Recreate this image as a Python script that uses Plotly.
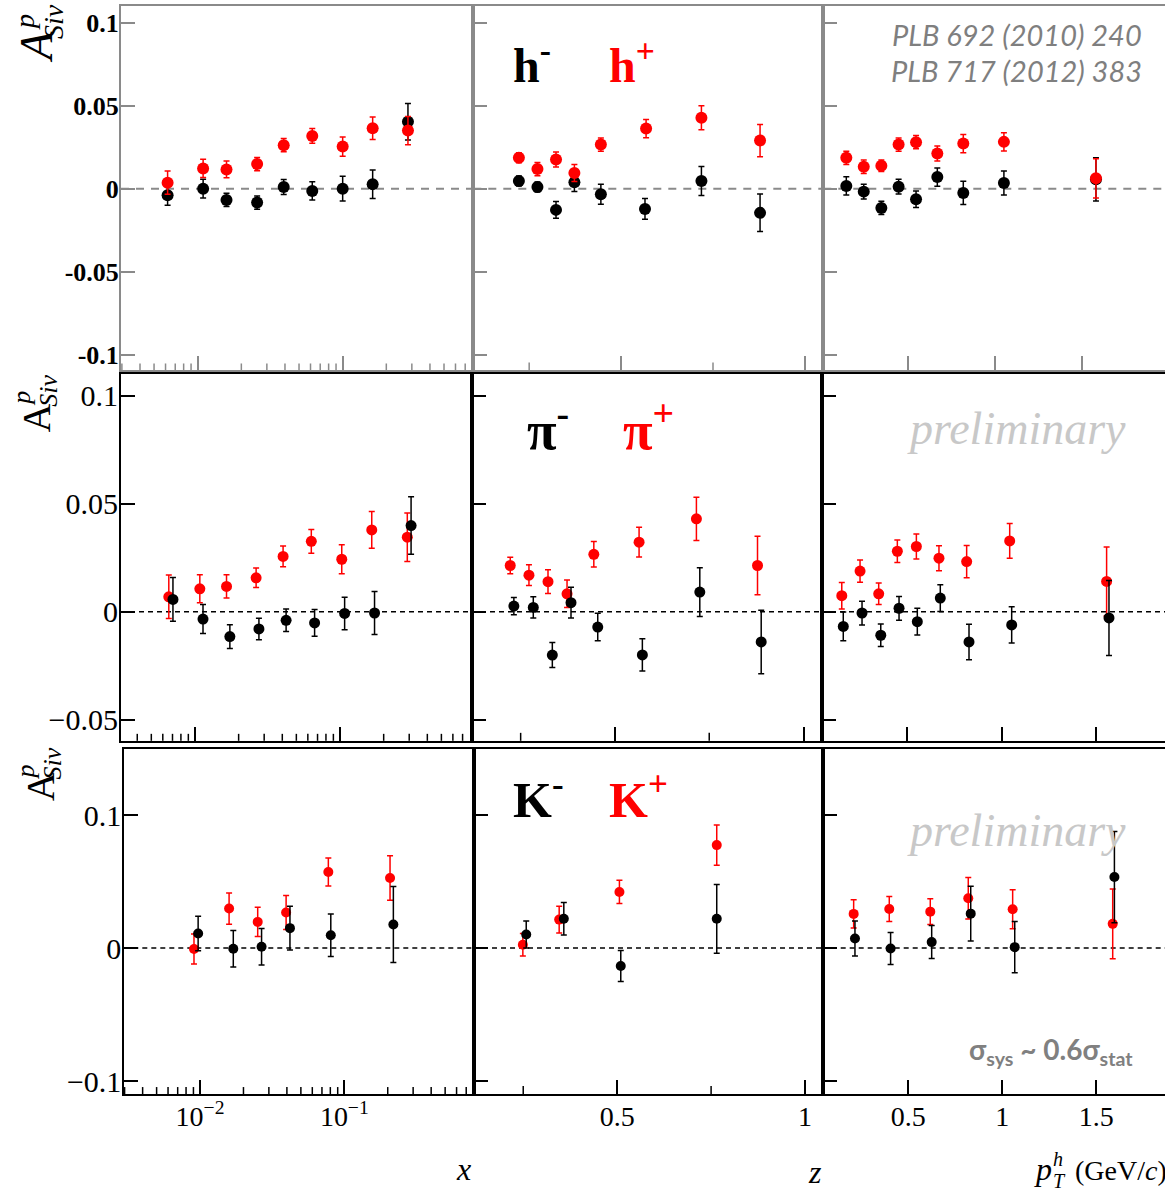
import math
import plotly.graph_objects as go

W, H = 1165, 1196

# ---------------- data: Sivers asymmetry on proton ----------------
# charged hadrons (h+ red, h- black) vs x, z, pT
X_HP = [0.0062, 0.0109, 0.0158, 0.0257, 0.0392, 0.0617, 0.100, 0.161, 0.282]
HP_X = [0.0036, 0.0122, 0.0116, 0.0148, 0.0262, 0.0318, 0.0254, 0.0364, 0.035]
HP_X_ERR = [0.007, 0.0055, 0.005, 0.004, 0.004, 0.0045, 0.0058, 0.0068, 0.0085]
X_HM = [0.0062, 0.0109, 0.0158, 0.0257, 0.0392, 0.0617, 0.100, 0.161, 0.282]
HM_X = [-0.004, 0.0, -0.0068, -0.0084, 0.001, -0.0014, 0.0, 0.0026, 0.0404]
HM_X_ERR = [0.006, 0.0056, 0.004, 0.004, 0.0045, 0.0055, 0.0075, 0.0086, 0.011]

Z_HP = [0.222, 0.2725, 0.323, 0.373, 0.445, 0.568, 0.7185, 0.878]
HP_Z = [0.0186, 0.0118, 0.0176, 0.0094, 0.0266, 0.0362, 0.0427, 0.029]
HP_Z_ERR = [0.003, 0.004, 0.0045, 0.0051, 0.004, 0.0055, 0.0072, 0.0097]
Z_HM = [0.222, 0.2725, 0.323, 0.373, 0.445, 0.565, 0.7185, 0.878]
HM_Z = [0.0046, 0.001, -0.0128, 0.0038, -0.0034, -0.0122, 0.0046, -0.0146]
HM_Z_ERR = [0.003, 0.003, 0.005, 0.0055, 0.006, 0.0063, 0.0087, 0.0113]

PT_HP = [0.148, 0.248, 0.349, 0.448, 0.548, 0.67, 0.819, 1.052, 1.58]
HP_PT = [0.0186, 0.0132, 0.0138, 0.0266, 0.028, 0.0212, 0.0272, 0.0282, 0.0062]
HP_PT_ERR = [0.004, 0.004, 0.0035, 0.004, 0.004, 0.0045, 0.0055, 0.0055, 0.0118]
PT_HM = [0.148, 0.248, 0.349, 0.448, 0.548, 0.67, 0.819, 1.052, 1.58]
HM_PT = [0.0016, -0.0018, -0.0116, 0.0012, -0.0064, 0.007, -0.0026, 0.0034, 0.0056]
HM_PT_ERR = [0.0055, 0.0045, 0.004, 0.0045, 0.005, 0.0055, 0.007, 0.0072, 0.013]

# pions
X_PIP = [0.0066, 0.0108, 0.0165, 0.0264, 0.0405, 0.0634, 0.1028, 0.1655, 0.291]
PIP_X = [0.0069, 0.0106, 0.0117, 0.0157, 0.0256, 0.0326, 0.0243, 0.0379, 0.0345]
PIP_X_ERR = [0.0101, 0.0065, 0.0054, 0.0045, 0.0048, 0.0055, 0.0067, 0.0085, 0.0112]
X_PIM = [0.00705, 0.01136, 0.0174, 0.0276, 0.0425, 0.0668, 0.1076, 0.173, 0.309]
PIM_X = [0.0057, -0.0034, -0.0115, -0.008, -0.004, -0.0052, -0.0008, -0.0006, 0.0399]
PIM_X_ERR = [0.0101, 0.0067, 0.0055, 0.005, 0.0052, 0.0062, 0.0075, 0.01, 0.0133]

Z_PIP = [0.2224, 0.272, 0.3225, 0.373, 0.444, 0.564, 0.716, 0.878]
PIP_Z = [0.0214, 0.0169, 0.0139, 0.0083, 0.0266, 0.0322, 0.043, 0.0214]
PIP_Z_ERR = [0.0038, 0.0048, 0.0055, 0.0064, 0.0059, 0.0069, 0.01, 0.0136]
Z_PIM = [0.232, 0.2835, 0.334, 0.3835, 0.4544, 0.5727, 0.725, 0.8878]
PIM_Z = [0.0026, 0.002, -0.0201, 0.0042, -0.0071, -0.02, 0.0091, -0.014]
PIM_Z_ERR = [0.004, 0.0049, 0.0058, 0.0071, 0.0064, 0.0075, 0.0113, 0.0147]

PT_PIP = [0.152, 0.249, 0.348, 0.447, 0.548, 0.668, 0.815, 1.0435, 1.558]
PIP_PT = [0.0074, 0.0188, 0.0083, 0.028, 0.0302, 0.0248, 0.0232, 0.0328, 0.014]
PIP_PT_ERR = [0.0061, 0.0052, 0.005, 0.0052, 0.0058, 0.0058, 0.0075, 0.008, 0.016]
PT_PIM = [0.160, 0.2595, 0.359, 0.456, 0.553, 0.675, 0.8275, 1.054, 1.5706]
PIM_PT = [-0.0068, -0.0006, -0.0109, 0.0016, -0.0046, 0.0063, -0.014, -0.0061, -0.0029]
PIM_PT_ERR = [0.0067, 0.0055, 0.0052, 0.0055, 0.0062, 0.0062, 0.0082, 0.0084, 0.0174]

# kaons
X_KP = [0.00908, 0.0159, 0.0251, 0.0395, 0.0775, 0.2075]
KP_X = [-0.0007, 0.0297, 0.0197, 0.0267, 0.0572, 0.0527]
KP_X_ERR = [0.0112, 0.0117, 0.011, 0.0128, 0.0106, 0.0167]
X_KM = [0.0097, 0.017, 0.0267, 0.042, 0.0806, 0.2188]
KM_X = [0.011, -0.0005, 0.001, 0.015, 0.0097, 0.0177]
KM_X_ERR = [0.013, 0.0137, 0.0137, 0.0165, 0.016, 0.0286]

Z_KP = [0.249, 0.3457, 0.506, 0.765]
KP_Z = [0.0025, 0.0214, 0.0422, 0.0774]
KP_Z_ERR = [0.0084, 0.01, 0.0087, 0.0152]
Z_KM = [0.258, 0.358, 0.5096, 0.765]
KM_Z = [0.0102, 0.022, -0.0135, 0.022]
KM_Z_ERR = [0.0102, 0.0122, 0.0116, 0.0258]

PT_KP = [0.2096, 0.399, 0.617, 0.819, 1.055, 1.587]
KP_PT = [0.0257, 0.0294, 0.0274, 0.0374, 0.0292, 0.0182]
KP_PT_ERR = [0.0106, 0.0094, 0.0097, 0.0156, 0.0147, 0.0262]
PT_KM = [0.2165, 0.406, 0.6245, 0.832, 1.066, 1.596]
KM_PT = [0.0072, -0.0003, 0.0045, 0.0259, 0.0007, 0.0534]
KM_PT_ERR = [0.0131, 0.012, 0.0124, 0.0205, 0.0193, 0.0343]

# tick labels
Y_TICKS_ROW1 = [0.1, 0.05, 0, -0.05, -0.1]
Y_TEXT_ROW1 = ["0.1", "0.05", "0", "-0.05", "-0.1"]
Y_TICKS_ROW2 = [0.1, 0.05, 0, -0.05]
Y_TEXT_ROW2 = ["0.1", "0.05", "0", "\u22120.05"]
Y_TICKS_ROW3 = [0.1, 0, -0.1]
Y_TEXT_ROW3 = ["0.1", "0", "\u22120.1"]
X_LOG_TICKS = [0.01, 0.1]
X_LOG_TEXT = ["10<sup>\u22122</sup>", "10<sup>\u22121</sup>"]
X_LOG_MINOR = [m * 10 ** e for e in (-3, -2, -1) for m in range(2, 10)]
Z_TICKS = [0.5, 1.0]
Z_TEXT = ["0.5", "1"]
Z_MINOR = [0.25, 0.75]
PT_TICKS = [0.5, 1.0, 1.5]
PT_TEXT = ["0.5", "1", "1.5"]

SERIF = "Liberation Serif"
RED = "#ff0000"
BLACK = "#000000"


def px(x):
    return x / W


def py(y):
    return 1 - y / H


# ---------------- layout of the 3x3 grid (frame edges in pixels) ----------------
rows = [
    dict(top=5.7, bottom=371.7, cols=[121, 473.3, 823.3, W],
         xr=[(-2.529, -0.099), (0.098, 1.05), (0.016, 1.976)], yr=(-0.1096, 0.1103),
         yt=(Y_TICKS_ROW1, Y_TEXT_ROW1), frame="#8a8a8a", ms=12, lab=26, labw="bold",
         zero=dict(color="#8a8a8a", dash="8px,7px", width=2),
         series=[
             [(X_HM, HM_X, HM_X_ERR, BLACK), (X_HP, HP_X, HP_X_ERR, RED)],
             [(Z_HM, HM_Z, HM_Z_ERR, BLACK), (Z_HP, HP_Z, HP_Z_ERR, RED)],
             [(PT_HM, HM_PT, HM_PT_ERR, BLACK), (PT_HP, HP_PT, HP_PT_ERR, RED)],
         ]),
    dict(top=375.7, bottom=743.3, cols=[121, 472, 822, W],
         xr=[(-2.510, -0.090), (0.121, 1.049), (0.047, 1.868)], yr=(-0.0598, 0.1099),
         yt=(Y_TICKS_ROW2, Y_TEXT_ROW2), frame="#000000", ms=11, lab=30, labw="normal",
         zero=dict(color="#000000", dash="5px,4px", width=1.5),
         series=[
             [(X_PIP, PIP_X, PIP_X_ERR, RED), (X_PIM, PIM_X, PIM_X_ERR, BLACK)],
             [(Z_PIP, PIP_Z, PIP_Z_ERR, RED), (Z_PIM, PIM_Z, PIM_Z_ERR, BLACK)],
             [(PT_PIP, PIP_PT, PIP_PT_ERR, RED), (PT_PIM, PIM_PT, PIM_PT_ERR, BLACK)],
         ]),
    dict(top=751.7, bottom=1097.7, cols=[124.3, 474, 822.7, W],
         xr=[(-2.525, -0.101), (0.119, 1.047), (0.045, 1.865)], yr=(-0.1097, 0.1495),
         yt=(Y_TICKS_ROW3, Y_TEXT_ROW3), frame="#000000", ms=10, lab=30, labw="normal",
         zero=dict(color="#000000", dash="5px,4px", width=1.5),
         series=[
             [(X_KP, KP_X, KP_X_ERR, RED), (X_KM, KM_X, KM_X_ERR, BLACK)],
             [(Z_KP, KP_Z, KP_Z_ERR, RED), (Z_KM, KM_Z, KM_Z_ERR, BLACK)],
             [(PT_KP, KP_PT, KP_PT_ERR, RED), (PT_KM, KM_PT, KM_PT_ERR, BLACK)],
         ]),
]

fig = go.Figure()
layout = dict(
    width=W, height=H, margin=dict(l=0, r=0, t=0, b=0),
    paper_bgcolor="white", plot_bgcolor="white", showlegend=False,
    font=dict(family=SERIF, color="black", size=27),
)
shapes = []


def minor_ticks(xref, yref, values, lo, hi, log, length_px, height_px, color):
    # short inward tick marks along the bottom frame, placed in axis-domain units
    for v in values:
        t = math.log10(v) if log else v
        f = (t - lo) / (hi - lo)
        if 0.0 < f < 1.0:
            shapes.append(dict(type="line", xref=f"{xref} domain", yref=f"{yref} domain",
                               x0=f, x1=f, y0=0, y1=length_px / height_px,
                               line=dict(color=color, width=1.5)))


k = 0
for r, row in enumerate(rows):
    height_px = row["bottom"] - row["top"]
    for c in range(3):
        k += 1
        xa = "xaxis" if k == 1 else f"xaxis{k}"
        ya = "yaxis" if k == 1 else f"yaxis{k}"
        xref = "x" if k == 1 else f"x{k}"
        yref = "y" if k == 1 else f"y{k}"
        bottom_row = r == 2
        lo, hi = row["xr"][c]
        xdict = dict(
            domain=[px(row["cols"][c]), px(row["cols"][c + 1])],
            anchor=yref, range=[lo, hi],
            showline=True, mirror=True, linecolor=row["frame"], linewidth=2,
            ticks="inside", ticklen=14, tickwidth=1.5, tickcolor=row["frame"],
            showgrid=False, zeroline=False, fixedrange=True,
            showticklabels=bottom_row, ticklabelstandoff=-4,
            tickfont=dict(family=SERIF, size=28, color="black"),
        )
        if c == 0:
            xdict.update(type="log", tickmode="array", tickvals=X_LOG_TICKS, ticktext=X_LOG_TEXT)
            minor_ticks(xref, yref, X_LOG_MINOR, lo, hi, True, 7, height_px, row["frame"])
        elif c == 1:
            xdict.update(tickmode="array", tickvals=Z_TICKS, ticktext=Z_TEXT)
            minor_ticks(xref, yref, Z_MINOR, lo, hi, False, 8, height_px, row["frame"])
        else:
            xdict.update(tickmode="array", tickvals=PT_TICKS, ticktext=PT_TEXT)
        ydict = dict(
            domain=[py(row["bottom"]), py(row["top"])],
            anchor=xref, range=list(row["yr"]),
            showline=True, mirror=(c < 2), linecolor=row["frame"], linewidth=2,
            ticks="inside", ticklen=14, tickwidth=1.5, tickcolor=row["frame"],
            showgrid=False, zeroline=False, fixedrange=True,
            tickmode="array", tickvals=row["yt"][0], ticktext=row["yt"][1],
            showticklabels=(c == 0), ticklabelstandoff=-5,
            tickfont=dict(family=SERIF, size=row["lab"], color="black", weight=row["labw"]),
        )
        layout[xa] = xdict
        layout[ya] = ydict

        # dashed zero line
        shapes.append(dict(type="line", xref=f"{xref} domain", yref=yref,
                           x0=0, x1=1, y0=0, y1=0, layer="below",
                           line=dict(color=row["zero"]["color"], width=row["zero"]["width"],
                                     dash=row["zero"]["dash"])))

        for xs, ys, es, col in row["series"][c]:
            fig.add_trace(go.Scatter(
                x=xs, y=ys, xaxis=xref, yaxis=yref, mode="markers",
                marker=dict(color=col, size=row["ms"], line=dict(width=0)),
                error_y=dict(type="data", array=es, visible=True, color=col,
                             thickness=1.5, width=3),
                hoverinfo="skip",
            ))

ann = []


def text(x, y, s, size, color="black", family=SERIF, xanchor="center",
         yanchor="middle", angle=0):
    ann.append(dict(x=px(x), y=py(y), xref="paper", yref="paper", text=s,
                    showarrow=False, xanchor=xanchor, yanchor=yanchor,
                    textangle=angle, borderpad=0,
                    font=dict(family=family, size=size, color=color)))


# y-axis titles  A^p_Siv (stacked super/subscript)
for (ax, ay, a_size, a_txt), (pxp, pyp), (sx, sy), s_size in [
    ((37, 47, 46, "<i>A</i>"), (25, 22), (54, 22), 28),
    ((37, 420, 40, "A"), (22, 400), (49, 392), 26),
    ((40, 790, 40, "A"), (25, 775), (52, 766), 26),
]:
    text(ax, ay, a_txt, a_size, angle=-90)
    text(pxp, pyp, "<i>p</i>", s_size, angle=-90)
    text(sx, sy, "<i>Siv</i>", s_size, angle=-90)

# hadron labels
text(512, 62, "<b>h<sup>-</sup></b>", 48, xanchor="left")
text(608, 62, "<b>h<sup>+</sup></b>", 48, color=RED, xanchor="left")
text(526, 428, "<b>\u03c0<sup>-</sup></b>", 54, xanchor="left")
text(622, 428, "<b>\u03c0<sup>+</sup></b>", 54, color=RED, xanchor="left")
text(512, 799, "<b>K<sup>-</sup></b>", 50, xanchor="left")
text(608, 799, "<b>K<sup>+</sup></b>", 50, color=RED, xanchor="left")

# references and notes
text(1143, 35, "<i>PLB 692 (2010) 240</i>", 29, color="#7f7f7f", family="Lato", xanchor="right")
text(1143, 71, "<i>PLB 717 (2012) 383</i>", 29, color="#7f7f7f", family="Lato", xanchor="right")
text(1016, 430, "<i>preliminary</i>", 46, color="#c8c8c8")
text(1016, 833, "<i>preliminary</i>", 46, color="#c8c8c8")
text(1134, 1055, "<b>\u03c3<sub>sys</sub> ~ 0.6\u03c3<sub>stat</sub></b>", 28,
     color="#808080", family="Lato", xanchor="right")

# x-axis titles
text(463, 1173, "<i>x</i>", 32)
text(815, 1176, "<i>z</i>", 32)
text(1043, 1173, "<i>p</i>", 32)
text(1058, 1163, "<i>h</i>", 20)
text(1059, 1185, "<i>T</i>", 20)
text(1074, 1174, "(GeV/<i>c</i>)", 28, xanchor="left")

layout["annotations"] = ann
layout["shapes"] = shapes
fig.update_layout(**layout)
fig.write_html("out.html")
